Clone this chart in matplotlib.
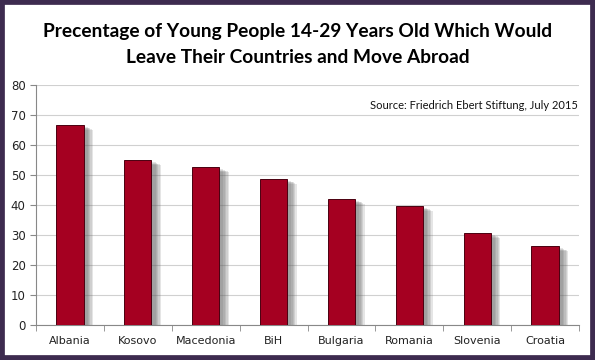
import matplotlib.pyplot as plt
import matplotlib.patheffects as pe
from matplotlib.patches import Rectangle

countries = ['Albania', 'Kosovo', 'Macedonia', 'BiH', 'Bulgaria', 'Romania', 'Slovenia', 'Croatia']
share = [66.7, 54.9, 52.6, 48.7, 42.0, 39.7, 30.7, 26.3]

fig = plt.figure(figsize=(5.95, 3.6), dpi=100)
fig.patch.set_facecolor('white')
ax = fig.add_axes([36 / 595, 35 / 360, 543 / 595, 240 / 360])

# soft shadow: a few offset layers behind each bar
shadow = [pe.SimplePatchShadow(offset=(d, -d * 0.5), shadow_rgbFace='#606060', alpha=0.16)
          for d in (7, 6, 5, 4, 3)]
bars = ax.bar(range(len(countries)), share, width=0.4, color='#a50021',
              edgecolor='#4a0010', linewidth=0.7, zorder=3)
for b in bars:
    b.set_path_effects(shadow + [pe.Normal()])

ax.set_xlim(-0.5, len(countries) - 0.5)
ax.set_ylim(0, 80)
ax.set_yticks(range(0, 81, 10))
ax.set_xticks(range(len(countries)))
ax.set_xticklabels(countries)
ax.set_xticks([i + 0.5 for i in range(-1, len(countries))], minor=True)
ax.tick_params(axis='x', which='major', length=0, pad=8, labelsize=8, colors='#222222')
ax.tick_params(axis='x', which='minor', length=4, color='#888888')
ax.tick_params(axis='y', length=4, color='#888888', labelsize=8.5, labelcolor='#222222')

ax.yaxis.grid(True, color='#d0d0d0', linewidth=0.8, zorder=0)
ax.set_axisbelow(True)
for s in ('top', 'right'):
    ax.spines[s].set_visible(False)
ax.spines['left'].set_color('#888888')
ax.spines['bottom'].set_color('#888888')

ax.text(0.998, 0.915, 'Source: Friedrich Ebert Stiftung, July 2015', transform=ax.transAxes,
        ha='right', va='center', fontsize=8, family='Lato', color='#111111')

fig.text(0.5, 0.912, 'Precentage of Young People 14-29 Years Old Which Would',
         ha='center', va='center', fontsize=13.8, fontweight='bold', family='Lato')
fig.text(0.5, 0.84, 'Leave Their Countries and Move Abroad',
         ha='center', va='center', fontsize=13.8, fontweight='bold', family='Lato')

fig.patches.append(Rectangle((0, 0), 1, 1, transform=fig.transFigure, fill=False,
                             edgecolor='#3d2b4f', linewidth=7, zorder=10))

fig.savefig('out.png', dpi=100)
